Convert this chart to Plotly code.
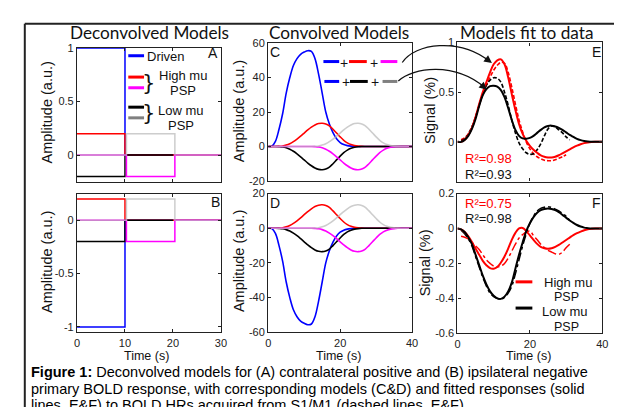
import plotly.graph_objects as go

W, H = 622, 407

# ---------------- data ----------------
# Deconvolved models (step functions)
step_t_first = [0, 10, 10, 30]
step_t_first_short = [0, 10, 10, 20]
step_t_second = [0, 10.3, 10.3, 20.4, 20.4, 30]

A_driven = [1, 1, 0, 0]
A_high_first = [0.2, 0.2, 0, 0]
A_low_first = [-0.2, -0.2, 0, 0]
A_high_second = [0, 0, -0.2, -0.2, 0, 0]
A_low_second = [0, 0, 0.2, 0.2, 0, 0]

B_driven = [-1, -1, 0, 0]
B_high_first = [0.2, 0.2, 0, 0]
B_low_first = [-0.2, -0.2, 0, 0]
B_high_second = [0, 0, -0.2, -0.2, 0, 0]
B_low_second = [0, 0, 0.2, 0.2, 0, 0]

# Convolved models (time in s)
t_conv = list(range(0, 41))
C_driven = [0, 0.2, 3, 10, 19, 31, 40, 47, 51, 53.5, 54.8, 55.6, 55.2, 51, 42, 31, 20, 13, 8, 4.5,
            2.3, 1.1, 0.5, 0.2, 0.05, 0, 0, 0, 0, 0, 0, 0, 0, 0, 0, 0, 0, 0, 0, 0, 0]
C_red = [0, 0, 0, 0.1, 0.3, 0.8, 1.6, 2.8, 4.3, 6, 7.8, 9.6, 11.2, 12.5, 13.3, 13.5, 13.1, 12, 10, 7.8,
         5.6, 3.6, 2.1, 1.1, 0.5, 0.2, 0.05, 0, 0, 0, 0, 0, 0, 0, 0, 0, 0, 0, 0, 0, 0]
C_black = [0, 0, 0, -0.1, -0.3, -0.8, -1.6, -2.8, -4.3, -6, -7.8, -9.6, -11.2, -12.5, -13.3, -13.5, -13.1, -12, -10, -7.8,
           -5.6, -3.6, -2.1, -1.1, -0.5, -0.2, -0.05, 0, 0, 0, 0, 0, 0, 0, 0, 0, 0, 0, 0, 0, 0]
C_gray = [0, 0, 0, 0, 0, 0, 0, 0, 0, 0, 0, 0, 0, 0.1, 0.3, 0.8, 1.6, 2.8, 4.3, 6,
          7.8, 9.6, 11.2, 12.5, 13.3, 13.5, 13.1, 12, 10, 7.8, 5.6, 3.6, 2.1, 1.1, 0.5, 0.2, 0.05, 0, 0, 0, 0]
C_magenta = [0, 0, 0, 0, 0, 0, 0, 0, 0, 0, 0, 0, 0, -0.1, -0.3, -0.8, -1.6, -2.8, -4.3, -6,
             -7.8, -9.6, -11.2, -12.5, -13.3, -13.5, -13.1, -12, -10, -7.8, -5.6, -3.6, -2.1, -1.1, -0.5, -0.2, -0.05, 0, 0, 0, 0]
D_driven = [0, -0.2, -3, -10, -19, -31, -40, -47, -51, -53.5, -54.8, -55.6, -55.2, -51, -42, -31, -20, -13, -8, -4.5,
            -2.3, -1.1, -0.5, -0.2, -0.05, 0, 0, 0, 0, 0, 0, 0, 0, 0, 0, 0, 0, 0, 0, 0, 0]
D_red = C_red
D_black = C_black
D_gray = C_gray
D_magenta = C_magenta

# Model fits and data
t_fit = list(range(0, 41))
t_data_E_red = list(range(1, 31))
t_data_31 = list(range(1, 32))
E_red_fit = [0, 0, 0.02, 0.07, 0.14, 0.25, 0.38, 0.5, 0.6, 0.7, 0.78, 0.82, 0.83, 0.78, 0.65, 0.48, 0.32, 0.18, 0.08, 0.01,
             -0.04, -0.08, -0.11, -0.135, -0.15, -0.157, -0.158, -0.15, -0.135, -0.115, -0.095, -0.075, -0.055, -0.038,
             -0.024, -0.013, -0.006, -0.002, 0, 0, 0]
E_black_fit = [0, 0, 0.02, 0.06, 0.13, 0.23, 0.36, 0.47, 0.53, 0.56, 0.565, 0.555, 0.52, 0.45, 0.34, 0.22, 0.12, 0.06,
               0.035, 0.032, 0.04, 0.06, 0.09, 0.12, 0.145, 0.16, 0.163, 0.155, 0.14, 0.12, 0.095, 0.07, 0.05, 0.03,
               0.017, 0.008, 0.003, 0, 0, 0, 0]
E_red_data = [0.02, 0.04, 0.08, 0.15, 0.25, 0.37, 0.48, 0.57, 0.65, 0.72, 0.77, 0.8, 0.79, 0.7, 0.55, 0.38, 0.22, 0.1,
              0.0, -0.07, -0.12, -0.15, -0.17, -0.185, -0.19, -0.19, -0.18, -0.165, -0.15, -0.13]
E_black_data = [0.01, 0.03, 0.08, 0.15, 0.25, 0.37, 0.48, 0.57, 0.62, 0.645, 0.64, 0.6, 0.5, 0.37, 0.22, 0.09, -0.01,
                -0.07, -0.11, -0.125, -0.12, -0.08, -0.02, 0.06, 0.13, 0.16, 0.15, 0.12, 0.09, 0.05, 0.02]
F_red_fit = [0, -0.005, -0.02, -0.045, -0.077, -0.115, -0.15, -0.185, -0.21, -0.227, -0.23, -0.22, -0.195, -0.16,
             -0.115, -0.065, -0.025, 0.0, 0.003, -0.015, -0.04, -0.065, -0.088, -0.105, -0.113, -0.116, -0.113, -0.105,
             -0.094, -0.08, -0.066, -0.052, -0.038, -0.027, -0.018, -0.01, -0.005, -0.002, 0, 0, 0]
F_black_fit = [0, -0.005, -0.02, -0.05, -0.09, -0.15, -0.21, -0.27, -0.32, -0.36, -0.385, -0.4, -0.403, -0.39, -0.36,
               -0.31, -0.23, -0.15, -0.08, -0.015, 0.03, 0.065, 0.09, 0.105, 0.112, 0.114, 0.112, 0.105, 0.093, 0.078,
               0.062, 0.046, 0.032, 0.02, 0.011, 0.005, 0.002, 0, 0, 0, 0]
F_red_data = [-0.045, -0.05, -0.06, -0.08, -0.1, -0.12, -0.15, -0.18, -0.2, -0.215, -0.22, -0.215, -0.2, -0.17, -0.13,
              -0.09, -0.055, -0.035, -0.02, -0.015, -0.04, -0.065, -0.09, -0.11, -0.125, -0.135, -0.145, -0.148, -0.135,
              -0.11, -0.09]
F_black_data = [-0.01, -0.03, -0.06, -0.1, -0.16, -0.22, -0.28, -0.33, -0.37, -0.39, -0.4, -0.405, -0.395, -0.37, -0.33,
                -0.26, -0.18, -0.1, -0.03, 0.03, 0.07, 0.1, 0.115, 0.122, 0.125, 0.12, 0.11, 0.1, 0.085, 0.07, 0.045]

R2_E = ["R²=0.98", "R²=0.93"]
R2_F = ["R²=0.75", "R²=0.98"]

ticks_AB_x = [0, 10, 20, 30]
ticks_CF_x = [0, 20, 40]
ticks_A_y = [0, 0.5, 1]
ticks_A_y_text = ["0", "0.5", "1"]
ticks_B_y = [-1, -0.5, 0]
ticks_B_y_text = ["-1", "-0.5", "0"]
ticks_C_y = [-20, 0, 20, 40, 60]
ticks_C_y_text = ["-20", "0", "20", "40", "60"]
ticks_D_y = [-60, -40, -20, 0, 20]
ticks_D_y_text = ["-60", "-40", "-20", "0", "20"]
ticks_E_y = [0, 0.5, 1]
ticks_E_y_text = ["0", "0.5", "1"]
ticks_F_y = [-0.6, -0.4, -0.2, 0, 0.2]
ticks_F_y_text = ["-0.6", "-0.4", "-0.2", "0", "0.2"]

# ---------------- style ----------------
BLUE = "#0000ff"
RED = "#ff0000"
MAG = "#ff00ff"
BLK = "#000000"
GRY = "#b8b8b8"
GRY_LEG = "#808080"
ARIAL = "Liberation Sans, Arial, sans-serif"
TITLEF = "Lato, Carlito, sans-serif"


def px(x):
    return x / W


def py(y):
    return 1 - y / H


fig = go.Figure()


def add_line(x, y, color, ax, width=1.6, dash="solid", shape="linear", opacity=1.0):
    fig.add_trace(go.Scatter(x=x, y=y, mode="lines", xaxis="x" + ax, yaxis="y" + ax,
                             line=dict(color=color, width=width, dash=dash, shape=shape),
                             opacity=opacity, showlegend=False, hoverinfo="skip"))


# Panel A
add_line(step_t_first, A_driven, BLUE, "1", 1.5)
add_line(step_t_first, A_high_first, RED, "1", 1.5)
add_line(step_t_first_short, A_low_first, BLK, "1", 1.5)
add_line(step_t_second, A_high_second, MAG, "1", 1.5)
add_line(step_t_second, A_low_second, GRY, "1", 1.5, opacity=0.7)
# Panel B
add_line(step_t_first, B_driven, BLUE, "2", 1.5)
add_line(step_t_first, B_high_first, RED, "2", 1.5)
add_line(step_t_first_short, B_low_first, BLK, "2", 1.5)
add_line(step_t_second, B_high_second, MAG, "2", 1.5)
add_line(step_t_second, B_low_second, GRY, "2", 1.5, opacity=0.7)
# Panel C
add_line(t_conv, C_driven, BLUE, "3", 1.6, shape="spline")
add_line(t_conv, C_red, RED, "3", 1.6, shape="spline")
add_line(t_conv, C_black, BLK, "3", 1.6, shape="spline")
add_line(t_conv, C_magenta, MAG, "3", 1.6, shape="spline")
add_line(t_conv, C_gray, GRY, "3", 1.6, shape="spline", opacity=0.7)
# Panel D
add_line(t_conv, D_driven, BLUE, "4", 1.6, shape="spline")
add_line(t_conv, D_red, RED, "4", 1.6, shape="spline")
add_line(t_conv, D_black, BLK, "4", 1.6, shape="spline")
add_line(t_conv, D_magenta, MAG, "4", 1.6, shape="spline")
add_line(t_conv, D_gray, GRY, "4", 1.6, shape="spline", opacity=0.7)
# Panel E
add_line(t_data_E_red, E_red_data, RED, "5", 1.6, dash="4px,2px", shape="spline")
add_line(t_data_31, E_black_data, BLK, "5", 1.6, dash="4px,2px", shape="spline")
add_line(t_fit, E_red_fit, RED, "5", 2, shape="spline")
add_line(t_fit, E_black_fit, BLK, "5", 2, shape="spline")
# Panel F
add_line(t_data_31, F_red_data, RED, "6", 1.5, dash="dashdot", shape="spline")
add_line(t_data_31, F_black_data, BLK, "6", 1.5, dash="dashdot", shape="spline")
add_line(t_fit, F_red_fit, RED, "6", 2, shape="spline")
add_line(t_fit, F_black_fit, BLK, "6", 2, shape="spline")

# ---------------- axes ----------------
domains = {
    "1": ((67, 213), (35, 173)),
    "2": ((67, 213), (185, 328)),
    "3": ((261, 407), (30, 172)),
    "4": ((261, 407), (185, 328)),
    "5": ((453, 600), (29.3, 172.7)),
    "6": ((453, 600), (185, 329)),
}
xranges = {"1": [0, 30], "2": [0, 30], "3": [0, 40], "4": [0, 40], "5": [0, 40], "6": [0, 40]}
yranges = {"1": [-0.25, 1], "2": [-1.05, 0.25], "3": [-20, 60], "4": [-60, 20], "5": [-0.4, 1], "6": [-0.6, 0.2]}
xticks = {"1": ticks_AB_x, "2": ticks_AB_x, "3": ticks_CF_x, "4": ticks_CF_x, "5": ticks_CF_x, "6": ticks_CF_x}
yticks = {"1": (ticks_A_y, ticks_A_y_text), "2": (ticks_B_y, ticks_B_y_text), "3": (ticks_C_y, ticks_C_y_text),
          "4": (ticks_D_y, ticks_D_y_text), "5": (ticks_E_y, ticks_E_y_text), "6": (ticks_F_y, ticks_F_y_text)}
bottom_row = {"2", "4", "6"}

layout_axes = {}
for k, ((x0, x1), (y0, y1)) in domains.items():
    xname = "xaxis" if k == "1" else "xaxis" + k
    yname = "yaxis" if k == "1" else "yaxis" + k
    common = dict(showline=True, linecolor="#222", linewidth=1.3, mirror="ticks", ticks="inside",
                  ticklen=3, tickwidth=1, tickcolor="#222", showgrid=False, zeroline=False,
                  tickfont=dict(family=ARIAL, size=11, color="#222"), fixedrange=True)
    layout_axes[xname] = dict(common, domain=[px(x0), px(x1)], range=xranges[k], anchor="y" + k,
                              tickvals=xticks[k], ticktext=[str(v) for v in xticks[k]],
                              showticklabels=k in bottom_row)
    layout_axes[yname] = dict(common, domain=[py(y1), py(y0)], range=yranges[k], anchor="x" + k,
                              tickvals=yticks[k][0], ticktext=yticks[k][1])

fig.update_layout(**layout_axes)

ann = []


def text(x, y, s, size=13, color="#111", family=ARIAL, xanchor="center", yanchor="middle", angle=0):
    ann.append(dict(x=px(x), y=py(y), xref="paper", yref="paper", text=s, showarrow=False,
                    font=dict(family=family, size=size, color=color), xanchor=xanchor, yanchor=yanchor,
                    textangle=angle))


# column titles
text(140.5, 19.5, "Deconvolved Models", size=17.2, family=TITLEF)
text(332.5, 19.5, "Convolved Models", size=17.2, family=TITLEF)
text(523.5, 19.5, "Models fit to data", size=17.2, family=TITLEF)

# axis titles
text(37, 101, "Amplitude (a.u.)", size=14.5, angle=-90)
text(37, 255, "Amplitude (a.u.)", size=14.5, angle=-90)
text(231.5, 100, "Amplitude (a.u.)", size=14.5, angle=-90)
text(232, 255, "Amplitude (a.u.)", size=14.5, angle=-90)
text(425, 99, "Signal (%)", size=14.5, angle=-90)
text(421, 256, "Signal (%)", size=14.5, angle=-90)
text(137, 352, "Time (s)", size=12.5)
text(332.5, 352, "Time (s)", size=12.5)
text(525, 352, "Time (s)", size=12.5)

# panel letters
text(205, 40, "A", size=14)
text(207, 194, "B", size=14)
text(267.5, 39, "C", size=14)
text(267.5, 195, "D", size=14)
text(594, 39, "E", size=14)
text(594, 195, "F", size=14)

# R^2
text(459, 149, R2_E[0], size=13, color=RED, xanchor="left")
text(459, 165, R2_E[1], size=13, color="#111", xanchor="left")
text(459, 195, R2_F[0], size=13, color=RED, xanchor="left")
text(459, 211, R2_F[1], size=13, color="#111", xanchor="left")

# legend panel A
shapes = []


def seg(x0, x1, y, color, width=3):
    shapes.append(dict(type="line", xref="paper", yref="paper", x0=px(x0), x1=px(x1), y0=py(y), y1=py(y),
                       line=dict(color=color, width=width)))


seg(119, 135, 43, BLUE)
text(136, 43.5, "Driven", size=13, xanchor="left")
seg(119, 135, 65, RED)
seg(119, 135, 76, MAG)
seg(119, 135, 96, BLK)
seg(119, 135, 107, GRY_LEG)
text(140, 71, "}", size=21, family="DejaVu Sans, sans-serif")
text(140, 102, "}", size=21, family="DejaVu Sans, sans-serif")
text(175, 63, "High mu", size=13)
text(175, 79, "PSP", size=13)
text(173, 99, "Low mu", size=13)
text(173, 115, "PSP", size=13)

# legend panel C
seg(317, 333, 49, BLUE)
text(338, 50, "+", size=14, family=ARIAL)
seg(343, 361, 49, RED)
text(368, 50, "+", size=14, family=ARIAL)
seg(375, 392, 49, MAG)
seg(318, 333, 69.5, BLUE)
text(340, 70.5, "+", size=14, family=ARIAL)
seg(344, 362, 69.5, BLK)
text(369.5, 70.5, "+", size=14, family=ARIAL)
seg(377, 392, 69.5, GRY_LEG)

# legend panel F
seg(512, 529, 276, RED)
seg(512, 529, 303, BLK)
text(565, 277, "High mu", size=13)
text(564, 292, "PSP", size=12.5)
text(562, 307, "Low mu", size=13)
text(564, 322, "PSP", size=12.5)

# curved arrows
shapes.append(dict(type="path", xref="paper", yref="paper",
                   path=f"M {px(397)},{py(50)} C {px(410)},{py(30)} {px(455)},{py(24)} {px(486)},{py(49)}",
                   line=dict(color="#111", width=1.2)))
shapes.append(dict(type="path", xref="paper", yref="paper",
                   path=f"M {px(393)},{py(69)} C {px(408)},{py(55)} {px(450)},{py(49)} {px(481)},{py(76)}",
                   line=dict(color="#111", width=1.2)))
for (hx, hy, axo, ayo) in [(488, 50.5, -8, -6), (483, 78, -7.5, -6.5)]:
    ann.append(dict(x=px(hx), y=py(hy), xref="paper", yref="paper", text="", showarrow=True,
                    ax=axo, ay=ayo, arrowhead=2, arrowsize=1.2, arrowwidth=1.3, arrowcolor="#111",
                    standoff=0))

# outer frame
shapes.append(dict(type="line", xref="paper", yref="paper", x0=px(14), x1=px(14), y0=py(10), y1=py(440),
                   line=dict(color="#222", width=2)))
shapes.append(dict(type="line", xref="paper", yref="paper", x0=px(14), x1=px(620), y0=py(10), y1=py(10),
                   line=dict(color="#222", width=2)))
shapes.append(dict(type="line", xref="paper", yref="paper", x0=px(620), x1=px(620), y0=py(10), y1=py(440),
                   line=dict(color="#222", width=2)))

# caption
text(18, 369, "<b>Figure 1:</b> Deconvolved models for (A) contralateral positive and (B) ipsilateral negative",
     size=14.5, color="#000", xanchor="left")
text(18, 386, "primary BOLD response, with corresponding models (C&D) and fitted responses (solid",
     size=14.5, color="#000", xanchor="left")
text(18, 403, "lines, E&F) to BOLD HRs acquired from S1/M1 (dashed lines, E&F).",
     size=14.5, color="#000", xanchor="left")

fig.update_layout(width=W, height=H, margin=dict(l=0, r=0, t=0, b=0), paper_bgcolor="white",
                  plot_bgcolor="white", annotations=ann, shapes=shapes, showlegend=False)

fig.write_html("out.html")
